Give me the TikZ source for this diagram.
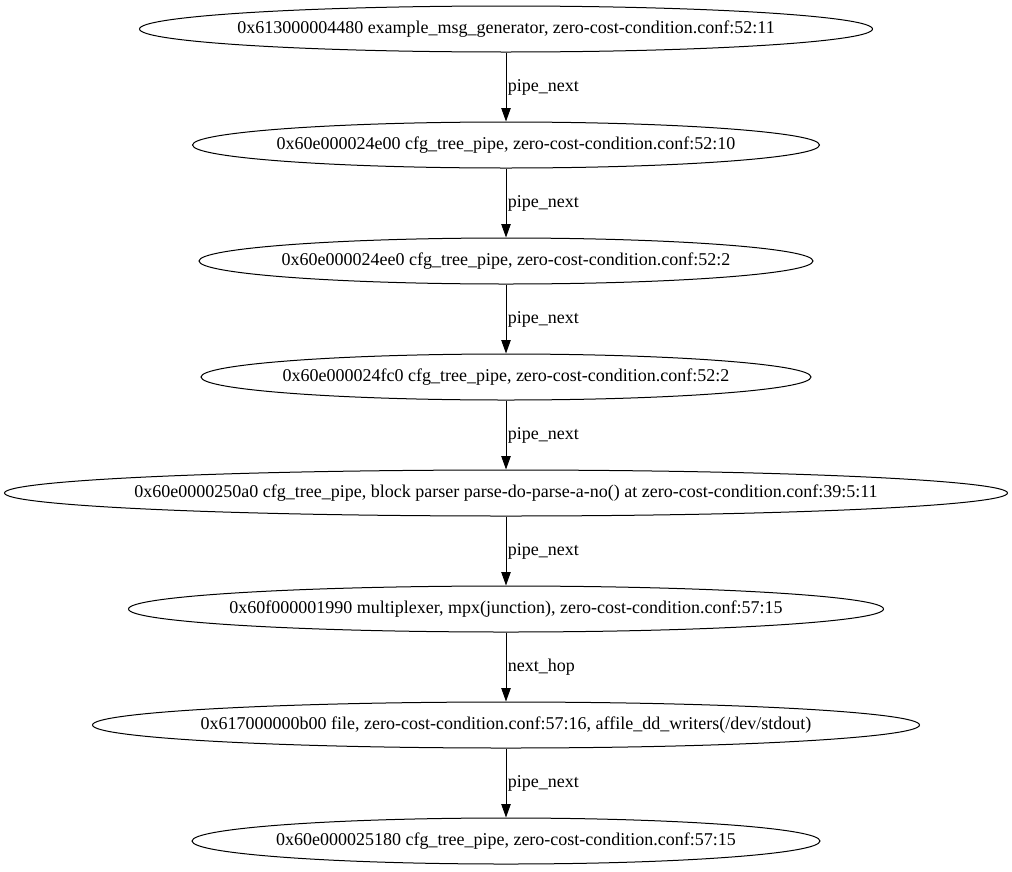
\documentclass[tikz,border=0pt]{standalone}
\usepackage{fontspec}
\setmainfont{Liberation Serif}
\usetikzlibrary{shapes.geometric,arrows.meta}

% text of a node, kept out of the ellipse's size
\newcommand{\pipetext}[1]{\makebox[0pt]{#1}}

\tikzset{
    pipenode/.style={ellipse, draw, line width=0.75pt, inner sep=0pt,
        minimum height=46*0.75pt, minimum width=#1*0.75pt,
        font=\fontsize{13.5}{16}\selectfont},
    pipeedge/.style={-{Triangle[length=10pt, width=7pt]}, line width=0.75pt},
    edgelabel/.style={midway, right, inner sep=1pt, font=\fontsize{13.5}{16}\selectfont}
}

\begin{document}
\begin{tikzpicture}[x=0.75pt, y=-0.75pt]
    \useasboundingbox (0,0) rectangle (1012,871);

    % nodes of the pipe tree
    \node[pipenode=733] (gen)  at (506,29)  {\pipetext{0x613000004480 example\_msg\_generator, zero-cost-condition.conf:52:11}};
    \node[pipenode=627] (p10)  at (506,145) {\pipetext{0x60e000024e00 cfg\_tree\_pipe, zero-cost-condition.conf:52:10}};
    \node[pipenode=614] (p2a)  at (506,261) {\pipetext{0x60e000024ee0 cfg\_tree\_pipe, zero-cost-condition.conf:52:2}};
    \node[pipenode=610] (p2b)  at (506,377) {\pipetext{0x60e000024fc0 cfg\_tree\_pipe, zero-cost-condition.conf:52:2}};
    \node[pipenode=1003] (blk) at (506,493) {\pipetext{0x60e0000250a0 cfg\_tree\_pipe, block parser parse-do-parse-a-no() at zero-cost-condition.conf:39:5:11}};
    \node[pipenode=755] (mpx)  at (506,609) {\pipetext{0x60f000001990 multiplexer, mpx(junction), zero-cost-condition.conf:57:15}};
    \node[pipenode=827] (file) at (506,725) {\pipetext{0x617000000b00 file, zero-cost-condition.conf:57:16, affile\_dd\_writers(/dev/stdout)}};
    \node[pipenode=628] (last) at (506,841) {\pipetext{0x60e000025180 cfg\_tree\_pipe, zero-cost-condition.conf:57:15}};

    % connectors
    \draw[pipeedge] (gen) -- (p10) node[edgelabel] {pipe\_next};
    \draw[pipeedge] (p10) -- (p2a) node[edgelabel] {pipe\_next};
    \draw[pipeedge] (p2a) -- (p2b) node[edgelabel] {pipe\_next};
    \draw[pipeedge] (p2b) -- (blk) node[edgelabel] {pipe\_next};
    \draw[pipeedge] (blk) -- (mpx) node[edgelabel] {pipe\_next};
    \draw[pipeedge] (mpx) -- (file) node[edgelabel] {next\_hop};
    \draw[pipeedge] (file) -- (last) node[edgelabel] {pipe\_next};
\end{tikzpicture}
\end{document}
